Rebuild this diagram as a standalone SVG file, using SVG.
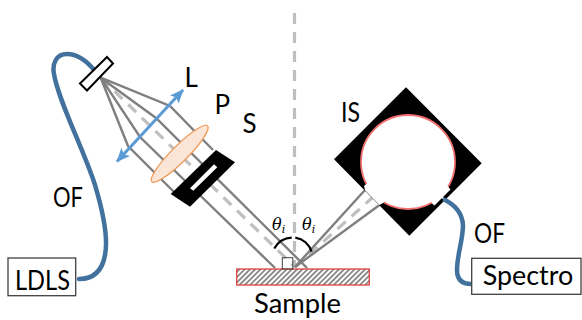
<svg xmlns="http://www.w3.org/2000/svg" width="582" height="320" viewBox="0 0 582 320">
<style>
.t{font-family:"Lato","Open Sans",sans-serif;font-size:26px;fill:#000}
.m{font-family:"DejaVu Serif",serif;font-style:italic;fill:#000}
.ray{fill:none;stroke:#7f7f7f;stroke-width:2.4}
.dash{fill:none;stroke:#bfbfbf;stroke-width:3.2;stroke-dasharray:11 8}
.fib{fill:none;stroke:#41719c;stroke-width:4.5;stroke-linecap:round}
.box{fill:#fff;stroke:#404040;stroke-width:1.3}
</style>
<defs>
<pattern id="hatch" width="3.7" height="3.7" patternUnits="userSpaceOnUse" patternTransform="rotate(45)">
<rect width="3.7" height="3.7" fill="#fff"/><rect width="1.7" height="3.7" fill="#808080"/>
</pattern>
<marker id="ah" viewBox="0 0 14 12" refX="13" refY="6" markerWidth="14" markerHeight="12" markerUnits="userSpaceOnUse" orient="auto-start-reverse">
<path d="M0,0 L14,6 L0,12 L3,6 Z" fill="#5b9bd5"/>
</marker>
</defs>
<g id="connectors">
<line class="dash" x1="294.5" y1="13" x2="294.5" y2="266"/>
<path class="dash" d="M101,78 L295,267"/>
<path class="ray" d="M100.7,77.7 L170,106 L213,150"/>
<path class="ray" d="M100.7,77.7 L156,118 L307,268"/>
<path class="ray" d="M100.7,77.7 L140,137 L275,268"/>
<path class="ray" d="M100.7,77.7 L128,146 L174,192"/>
<path class="dash" d="M295,267 L372,198"/>
<path class="ray" d="M295,267 L365,190"/>
<path class="ray" d="M295,267 L379.5,205"/>
</g>
<g id="fiber-left"><path class="fib" d="M95,71 C86,60 76,54 67,54 C56,54 52,64 54,74 C58,100 84,150 95,185 C104,215 108,240 105,255 C102,272 92,279 79,279"/></g>
<g id="fiber-head"><polygon points="107,57 113,63.5 87,90.5 80,83.5" fill="#fff" stroke="#000" stroke-width="2"/></g>
<g id="lens-L"><line x1="117" y1="161.5" x2="183" y2="90" stroke="#5b9bd5" stroke-width="3" marker-start="url(#ah)" marker-end="url(#ah)"/></g>
<g id="polarizer"><ellipse cx="179.7" cy="153.8" rx="39.5" ry="8" transform="rotate(-45 179.7 153.8)" fill="#fbe5d6" stroke="#ed9a58" stroke-width="1.3"/></g>
<g id="slit">
<polygon points="216,150 235,162.3 190,206.7 170.7,194" fill="#000"/>
<polygon points="214,164.3 217.3,167.3 193.3,190.7 190,188.3" fill="#fff"/>
</g>
<g id="sphere">
<polygon points="406,87.3 481.7,163.3 409.3,235.7 334,159.3" fill="#000"/>
<circle cx="408" cy="162" r="47" fill="#fff" stroke="#f07070" stroke-width="1.8"/>
<polygon points="365,190 379.5,205 383,203 388,198 369,182 364,186" fill="#fff"/>
<polygon points="446,184.5 450.5,189.5 434.5,205.5 431.5,203 430,195 440,185" fill="#fff"/>
<line x1="442" y1="197" x2="445.5" y2="200.5" stroke="#fff" stroke-width="1.5"/>
<line x1="365.5" y1="190" x2="379.5" y2="205" stroke="#e6e6e6" stroke-width="1"/>
</g>
<g id="fiber-right"><path class="fib" d="M445,200 C455,205 462,212 463,225 C463,240 457,255 457,270 C457,280 462,284 471,284"/></g>
<g id="sample">
<rect x="236.7" y="269" width="132.6" height="16" fill="url(#hatch)" stroke="#e04040" stroke-width="1.3"/>
<rect x="282.3" y="257.7" width="10.5" height="11.3" fill="none" stroke="#404040" stroke-width="1"/>
</g>
<g id="angle">
<path d="M274.3,248.5 A21,21 0 0 1 291.7,237.6" fill="none" stroke="#000" stroke-width="2.2"/>
<path d="M295.3,237.6 A21,21 0 0 1 311.7,251.7" fill="none" stroke="#000" stroke-width="2.2"/>
<text class="m" x="272" y="230" font-size="16">θ<tspan font-size="11" dy="3">i</tspan></text>
<text class="m" x="302" y="230" font-size="16">θ<tspan font-size="11" dy="3">i</tspan></text>
</g>
<g id="box-ldls"><rect class="box" x="8" y="258" width="67.7" height="37.7"/><text class="t" x="15" y="289.5" textLength="55" lengthAdjust="spacingAndGlyphs">LDLS</text></g>
<g id="box-spectro"><rect class="box" x="471.7" y="258.3" width="109.3" height="36"/><text class="t" x="482.7" y="285" textLength="90.5" lengthAdjust="spacingAndGlyphs">Spectro</text></g>
<g id="labels">
<text class="t" x="184.5" y="86.5">L</text>
<text class="t" x="214.5" y="113.5">P</text>
<text class="t" x="242.5" y="133">S</text>
<text class="t" x="53" y="207" textLength="30" lengthAdjust="spacingAndGlyphs">OF</text>
<text class="t" x="474" y="242.5" textLength="31" lengthAdjust="spacingAndGlyphs">OF</text>
<text class="t" x="341" y="121.5" textLength="19" lengthAdjust="spacingAndGlyphs">IS</text>
<text class="t" x="254" y="313" textLength="87" lengthAdjust="spacingAndGlyphs">Sample</text>
</g>
</svg>
